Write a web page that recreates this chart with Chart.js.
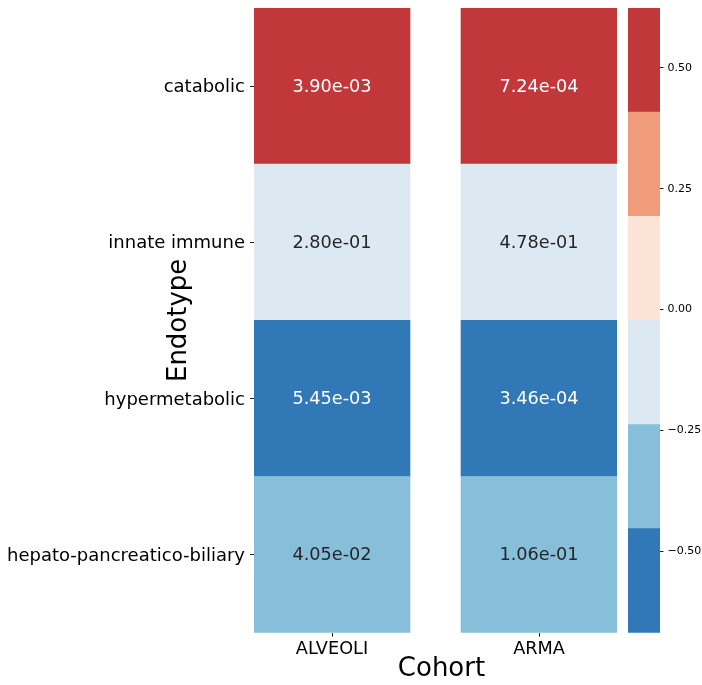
<!DOCTYPE html>
<html>
<head>
<meta charset="utf-8">
<script src="https://cdn.jsdelivr.net/npm/chart.js@4/dist/chart.umd.min.js"></script>
<style>
  html, body { margin: 0; padding: 0; background: #ffffff; }
  #wrap { position: relative; width: 702px; height: 685px; }
  canvas { position: absolute; top: 0; }
</style>
</head>
<body>
<div id="wrap">
  <canvas id="heat" width="702" height="685" style="left:0"></canvas>
  <canvas id="cbar" width="102" height="685" style="left:600px"></canvas>
</div>
<script>
// Rows (endotypes) and columns (cohorts)
const endotypes = ['catabolic', 'innate immune', 'hypermetabolic', 'hepato-pancreatico-biliary'];
const cohorts = ['ALVEOLI', 'ARMA'];

// Effect values that set each cell's colour
const effectAlveoli = [0.58, -0.12, -0.60, -0.35];
const effectArma = [0.624, -0.08, -0.669, -0.30];

// p-values printed inside the cells
const pAlveoli = [3.90e-3, 2.80e-1, 5.45e-3, 4.05e-2];
const pArma = [7.24e-4, 4.78e-1, 3.46e-4, 1.06e-1];

// Colour bar tick values
const cbarTicks = [-0.5, -0.25, 0, 0.25, 0.5];

// Discrete RdBu_r palette, 6 levels
const palette = ['#3079b6', '#87beda', '#dce9f2', '#fbe3d5', '#f09b7a', '#c1373a'];

const FONT = "'DejaVu Sans'";
const LABEL_SIZE = 18;
const COL_GAP = 51 / 156;   // white gap between the cohort columns, in column widths

Chart.defaults.font.family = FONT;

const effects = [effectAlveoli, effectArma];
const pvals = [pAlveoli, pArma];
const allVals = effects.flat();
const vmin = Math.min(...allVals);
const vmax = Math.max(...allVals);
const nBins = palette.length;

function colorFor(v) {
  let k = Math.floor((v - vmin) / (vmax - vmin) * nBins);
  k = Math.max(0, Math.min(nBins - 1, k));
  return palette[k];
}

function textColorFor(hex) {
  const lin = [1, 3, 5].map(i => parseInt(hex.substr(i, 2), 16) / 255)
    .map(c => c <= 0.03928 ? c / 12.92 : Math.pow((c + 0.055) / 1.055, 2.4));
  const L = 0.2126 * lin[0] + 0.7152 * lin[1] + 0.0722 * lin[2];
  return L > 0.408 ? '#262626' : '#ffffff';
}

function fmtP(p) {
  const [m, e] = p.toExponential(2).split('e');
  const n = parseInt(e, 10);
  return m + 'e' + (n < 0 ? '-' : '+') + String(Math.abs(n)).padStart(2, '0');
}

function colStart(j) { return j * (1 + COL_GAP); }

// Writes the p-value in the middle of each cell
const cellText = {
  id: 'cellText',
  afterDatasetsDraw(chart) {
    const ctx = chart.ctx;
    ctx.save();
    ctx.font = '17.7px ' + FONT;
    ctx.textAlign = 'center';
    ctx.textBaseline = 'middle';
    chart.data.datasets.forEach((ds, j) => {
      chart.getDatasetMeta(j).data.forEach((bar, i) => {
        const cx = (bar.x + bar.base) / 2;
        ctx.fillStyle = textColorFor(ds.backgroundColor[i]);
        ctx.fillText(fmtP(ds.pvals[i]), cx, bar.y + 1);
      });
    });
    ctx.restore();
  }
};

// x-axis title, placed a little right of the heatmap centre
const cohortTitle = {
  id: 'cohortTitle',
  afterDraw(chart) {
    const ctx = chart.ctx;
    const a = chart.chartArea;
    ctx.save();
    ctx.font = '26px ' + FONT;
    ctx.fillStyle = '#000';
    ctx.textAlign = 'center';
    ctx.textBaseline = 'alphabetic';
    ctx.fillText('Cohort', (a.left + a.right) / 2 + 6, 676);
    ctx.restore();
  }
};

const heatDatasets = cohorts.map((c, j) => ({
  label: c,
  data: endotypes.map(() => [colStart(j), colStart(j) + 1]),
  backgroundColor: effects[j].map(colorFor),
  pvals: pvals[j],
  borderWidth: 0,
  barPercentage: 1,
  categoryPercentage: 1,
  grouped: false
}));

new Chart(document.getElementById('heat'), {
  type: 'bar',
  data: { labels: endotypes, datasets: heatDatasets },
  options: {
    indexAxis: 'y',
    responsive: false,
    animation: false,
    devicePixelRatio: 1,
    layout: { padding: { left: 0, right: 85, top: 8, bottom: 0 } },
    plugins: { legend: { display: false }, tooltip: { enabled: false } },
    scales: {
      y: {
        type: 'category',
        offset: true,
        grid: { offset: false, drawOnChartArea: false, drawTicks: true, tickLength: 4, tickColor: '#222', lineWidth: 1 },
        border: { display: false },
        ticks: { font: { size: LABEL_SIZE }, color: '#000', padding: 5, labelOffset: 1.5 },
        title: {
          display: true, text: 'Endotype', color: '#000',
          font: { size: 26 }, padding: { top: 164, bottom: 0 }
        },
        afterFit(s) { s.width = 254; s.paddingTop = 0; s.paddingBottom = 0; }
      },
      x: {
        type: 'linear',
        min: 0,
        max: colStart(cohorts.length - 1) + 1,
        afterBuildTicks(s) { s.ticks = cohorts.map((c, j) => ({ value: colStart(j) + 0.5 })); },
        ticks: { callback: (v, i) => cohorts[i], font: { size: 17.7 }, color: '#000', padding: 2, autoSkip: false, maxRotation: 0 },
        grid: { drawOnChartArea: false, drawTicks: true, tickLength: 4, tickColor: '#222', lineWidth: 1 },
        border: { display: false },
        afterFit(s) { s.height = 52.3; s.paddingLeft = 0; s.paddingRight = 0; }
      }
    }
  },
  plugins: [cellText, cohortTitle]
});

// Colour bar: one floating bar per palette level
const binEdges = palette.map((c, k) => [
  vmin + k * (vmax - vmin) / nBins,
  vmin + (k + 1) * (vmax - vmin) / nBins
]);

new Chart(document.getElementById('cbar'), {
  type: 'bar',
  data: {
    labels: [''],
    datasets: binEdges.map((b, k) => ({
      data: [b],
      backgroundColor: palette[k],
      borderWidth: 0,
      barPercentage: 1,
      categoryPercentage: 1,
      grouped: false
    }))
  },
  options: {
    responsive: false,
    animation: false,
    devicePixelRatio: 1,
    layout: { padding: { left: 28, right: 0, top: 8, bottom: 52.3 } },
    plugins: { legend: { display: false }, tooltip: { enabled: false } },
    scales: {
      x: { display: false },
      y: {
        position: 'right',
        min: vmin,
        max: vmax,
        afterBuildTicks(s) { s.ticks = cbarTicks.map(v => ({ value: v })); },
        ticks: {
          callback: v => v.toFixed(2).replace('-', '\u2212'),
          font: { size: 11 }, color: '#000', padding: 4
        },
        grid: { drawOnChartArea: false, drawTicks: true, tickLength: 3.5, tickColor: '#222', lineWidth: 1 },
        border: { display: false },
        afterFit(s) { s.width = 42; s.paddingTop = 0; s.paddingBottom = 0; }
      }
    }
  }
});
</script>
</body>
</html>
